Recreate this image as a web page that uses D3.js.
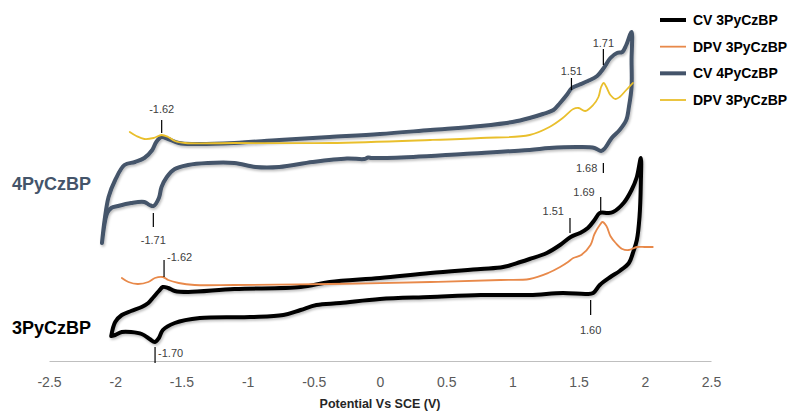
<!DOCTYPE html>
<html><head><meta charset="utf-8">
<script src="https://cdn.jsdelivr.net/npm/d3@7"></script>
<style>
html,body{margin:0;padding:0;background:#fff;}
svg{display:block;}
</style></head>
<body>
<svg id="chart" width="794" height="413"></svg>
<script>
// ---- DATA (potential V vs SCE, current in arbitrary units) ----
const tickValues = [-2.5, -2, -1.5, -1, -0.5, 0, 0.5, 1, 1.5, 2, 2.5];
const tickLabels = ["-2.5", "-2", "-1.5", "-1", "-0.5", "0", "0.5", "1", "1.5", "2", "2.5"];
const axisTitle = "Potential Vs SCE (V)";
const seriesNames = ["CV 3PyCzBP", "DPV 3PyCzBP", "CV 4PyCzBP", "DPV 3PyCzBP"];
const compoundNames = ["3PyCzBP", "4PyCzBP"];

const cv3 = [
  [-2.03,25],[-2.00,39],[-1.95,46],[-1.88,50],[-1.80,54],[-1.75,58],[-1.71,64],[-1.67,70],[-1.64,74],
  [-1.60,73],[-1.55,70],[-1.45,69],[-1.10,72],[-0.60,74],[-0.38,79],[0,83],[0.38,88],[0.76,92],
  [0.93,94],[1.06,99],[1.13,102],[1.26,108],[1.36,116],[1.44,124],[1.51,128],[1.57,133],[1.62,141],
  [1.66,148],[1.72,148],[1.76,149],[1.84,158],[1.90,171],[1.94,184],[1.97,203],
  [1.97,178],[1.96,144],[1.94,121],[1.91,108],[1.88,98],[1.81,90],[1.74,84],[1.66,76],[1.61,68],
  [1.56,67],[1.38,68],[1.13,66],[0.76,66],[0.38,64],[0,62],[-0.30,58],[-0.48,56],[-0.60,51],
  [-0.73,46],[-0.98,44],[-1.36,43],[-1.55,38],[-1.64,31],[-1.67,23],[-1.70,19],[-1.74,22],
  [-1.80,27],[-1.88,29],[-1.95,29],[-2.00,26],[-2.03,25]
];
const dpv3 = [
  [-1.95,83],[-1.90,79],[-1.83,77],[-1.75,79],[-1.70,83],[-1.64,84],[-1.60,81],[-1.52,78],[-1.40,76],
  [-1.10,76],[-0.38,77],[0.38,79],[0.91,81],[1.13,82],[1.27,88],[1.36,94],[1.42,99],[1.46,103],
  [1.52,106],[1.59,116],[1.62,127],[1.66,136],[1.68,139],[1.71,135],[1.74,125],[1.78,118],
  [1.83,112],[1.88,111],[1.94,114],[2.00,114],[2.06,114]
];
const cv4 = [
  [-2.10,118],[-2.08,141],[-2.05,164],[-2.00,181],[-1.93,196],[-1.85,199],[-1.78,203],[-1.72,211],
  [-1.69,219],[-1.65,224],[-1.60,222],[-1.52,218],[-1.40,217],[-1.10,218],[-0.76,221],[-0.38,224],
  [0,227],[0.38,231],[0.76,235],[1.00,239],[1.13,243],[1.23,247],[1.31,251],[1.36,258],[1.41,266],
  [1.45,273],[1.50,276],[1.57,280],[1.64,285],[1.69,293],[1.74,303],[1.79,308],[1.83,309],[1.86,316],
  [1.90,329],
  [1.90,301],[1.90,274],[1.88,254],[1.86,241],[1.81,231],[1.75,223],[1.70,213],[1.67,210],[1.62,213],
  [1.51,214],[1.28,213],[1.13,211],[0.63,207],[0.25,204],[-0.06,203],[-0.09,203.5],[-0.12,202],
  [-0.25,202.5],[-0.51,199],[-0.76,194],[-0.94,194],[-1.10,198],[-1.30,198],[-1.45,196],[-1.55,192],
  [-1.61,184],[-1.65,174],[-1.67,163],[-1.71,155],[-1.74,156],[-1.78,159],[-1.88,158],[-1.98,155],
  [-2.03,153],[-2.06,148],[-2.10,118]
];
const dpv4 = [
  [-1.89,229],[-1.84,225],[-1.78,222],[-1.71,223],[-1.65,226],[-1.60,224],[-1.55,220],[-1.47,218],
  [-1.10,218],[-0.38,218],[0.38,221],[0.76,223],[1.13,226],[1.28,234],[1.38,243],[1.46,252],
  [1.50,253],[1.55,250],[1.61,256],[1.65,264],[1.67,274],[1.69,278],[1.71,274],[1.74,266],
  [1.78,262],[1.81,264],[1.86,271],[1.91,278]
];
// peak annotations: label, potential of the marker, marker top/bottom current, label current
const peakLabels = ["-1.62","-1.71","1.51","1.71","1.68","-1.62","-1.70","1.51","1.69","1.60"];
const peakV      = [-1.649,-1.712,1.446,1.687,1.687,-1.631,-1.699,1.435,1.667,1.591];
const peakTop    = [241,148,283,312,198,101,14,143,164,61];
const peakBottom = [228,134,271,296,188,84,-2,128,149,46];
const labelI     = [252,121,290,317.5,192.7,104,8,150,169,31];
const labelSide  = ["c","c","c","c","l","r","r","l","l","c"];

// ---- CHART ----
const svg = d3.select("#chart");
const x = d3.scaleLinear().domain([-2.5, 2.5]).range([49, 711]);
const y = d3.scaleLinear().domain([0, 361]).range([361, 0]);

const defs = svg.append("defs");
const f = defs.append("filter").attr("id","shadow").attr("x","-10%").attr("y","-10%").attr("width","120%").attr("height","130%");
f.append("feDropShadow").attr("dx",1.2).attr("dy",1.8).attr("stdDeviation",1.2)
  .attr("flood-color","#000").attr("flood-opacity",0.25);

const colors = {cv3:"#000000", dpv3:"#E8894A", cv4:"#44546A", dpv4:"#E9BF2C"};

// axis
const ax = svg.append("g").attr("transform", `translate(0,${y(0)})`)
  .call(d3.axisBottom(x).tickValues(tickValues).tickSize(0).tickPadding(16)
    .tickFormat((d,i) => tickLabels[i]));
ax.select(".domain").attr("stroke","#BFBFBF").attr("stroke-width",1.2);
ax.selectAll("text").attr("font-family","Liberation Sans, Arial, sans-serif")
  .attr("font-size",14).attr("fill","#595959");

svg.append("text").attr("x", x(0)).attr("y", 408).attr("text-anchor","middle")
  .attr("font-family","Liberation Sans, Arial, sans-serif").attr("font-weight","bold")
  .attr("font-size",12.5).attr("fill","#262626").text(axisTitle);

const line = d3.line().x(d => x(d[0])).y(d => y(d[1])).curve(d3.curveCatmullRom.alpha(0.5));

function drawSeries(data, color, width, shadow){
  svg.append("path").datum(data).attr("d", line).attr("fill","none")
    .attr("stroke", color).attr("stroke-width", width)
    .attr("stroke-linejoin","round").attr("stroke-linecap","round")
    .attr("filter", shadow ? "url(#shadow)" : null);
}
drawSeries(cv3, colors.cv3, 4, true);
drawSeries(dpv3, colors.dpv3, 1.8, false);
drawSeries(cv4, colors.cv4, 4, true);
drawSeries(dpv4, colors.dpv4, 1.8, false);

// peak markers
peakLabels.forEach((lab, i) => {
  const px = x(peakV[i]);
  svg.append("line").attr("x1", px).attr("x2", px)
    .attr("y1", y(peakTop[i])).attr("y2", y(peakBottom[i]))
    .attr("stroke","#000").attr("stroke-width",1.2);
  let tx = px, anchor = "middle";
  if (labelSide[i] === "l") { tx = px - 6; anchor = "end"; }
  if (labelSide[i] === "r") { tx = px + 3; anchor = "start"; }
  svg.append("text").attr("x", tx).attr("y", y(labelI[i])).attr("dy","0.35em")
    .attr("text-anchor", anchor)
    .attr("font-family","Liberation Sans, Arial, sans-serif").attr("font-size",11)
    .attr("fill","#404040").text(lab);
});

// compound labels
svg.append("text").attr("x",12).attr("y",184).attr("dy","0.35em")
  .attr("font-family","Liberation Sans, Arial, sans-serif").attr("font-weight","bold")
  .attr("font-size",18).attr("fill",colors.cv4).text(compoundNames[1]);
svg.append("text").attr("x",12).attr("y",328).attr("dy","0.35em")
  .attr("font-family","Liberation Sans, Arial, sans-serif").attr("font-weight","bold")
  .attr("font-size",18).attr("fill","#000").text(compoundNames[0]);

// legend
const legColors = [colors.cv3, colors.dpv3, colors.cv4, colors.dpv4];
const legWidths = [4, 1.8, 4, 1.8];
const legY = d3.scalePoint().domain(d3.range(seriesNames.length)).range([20, 100]);
seriesNames.forEach((n, i) => {
  const g = svg.append("g").attr("transform", `translate(660,${legY(i)})`);
  g.append("line").attr("x1",0).attr("x2",26).attr("stroke",legColors[i])
    .attr("stroke-width",legWidths[i]);
  g.append("text").attr("x",33).attr("dy","0.35em")
    .attr("font-family","Liberation Sans, Arial, sans-serif").attr("font-weight","bold")
    .attr("font-size",14).attr("fill","#000").text(n);
});
</script>
</body></html>
